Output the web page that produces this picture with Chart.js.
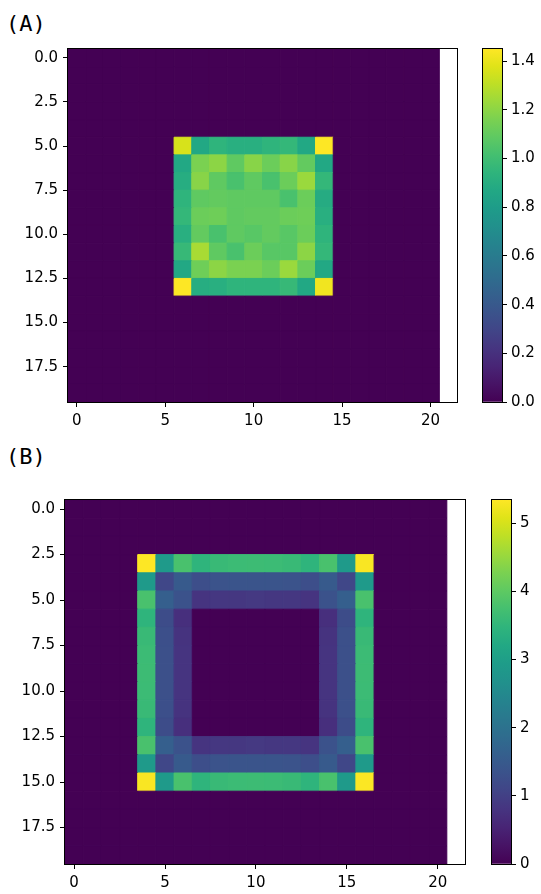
<!DOCTYPE html>
<html>
<head>
<meta charset="utf-8">
<script src="https://cdn.jsdelivr.net/npm/chart.js@4.4.1/dist/chart.umd.min.js"></script>
<style>
  html, body { margin: 0; padding: 0; background: #fff; }
  #fig { position: relative; width: 541px; height: 894px; overflow: hidden; }
  #fig canvas { position: absolute; }
  .panel-label { position: absolute; font-family: 'DejaVu Sans Mono', monospace; font-size: 22px; line-height: 1; color: #000; }
</style>
</head>
<body>
<div id="fig">
  <div class="panel-label" style="left:6px; top:13px;">(A)</div>
  <canvas id="heatA" width="470" height="430" style="left:0; top:0;"></canvas>
  <canvas id="barA" width="71" height="430" style="left:470px; top:0;"></canvas>
  <div class="panel-label" style="left:6px; top:446px;">(B)</div>
  <canvas id="heatB" width="480" height="454" style="left:0; top:440px;"></canvas>
  <canvas id="barB" width="61" height="454" style="left:480px; top:440px;"></canvas>
</div>
<script>
// ---- Datos ----
const N_ROWS = 20;
const N_COLS = 21;
const X_MAX = 21.5;              // el eje x llega hasta 21.5 (columna blanca)
const X_TICKS = [0, 5, 10, 15, 20];
const Y_TICKS = [0, 2.5, 5, 7.5, 10, 12.5, 15, 17.5];

// (A) bloque 9x9 en filas 5..13, columnas 6..14
const A_ROW0 = 5, A_COL0 = 6;
const A_BLOCK = [
  [1.36, 0.87, 0.94, 0.91, 0.91, 0.94, 0.96, 0.87, 1.45],
  [0.87, 1.16, 1.20, 1.09, 1.19, 1.12, 1.19, 1.10, 0.87],
  [0.90, 1.19, 1.09, 1.03, 1.09, 1.03, 1.12, 1.23, 0.96],
  [0.94, 1.09, 1.10, 1.09, 1.09, 1.09, 1.03, 1.12, 0.89],
  [0.96, 1.12, 1.13, 1.09, 1.10, 1.10, 1.12, 1.13, 0.91],
  [0.91, 1.10, 1.03, 1.09, 1.07, 1.10, 1.07, 1.12, 0.94],
  [0.97, 1.26, 1.09, 1.03, 1.12, 1.07, 1.07, 1.20, 0.96],
  [0.87, 1.13, 1.20, 1.16, 1.16, 1.12, 1.23, 1.12, 0.87],
  [1.45, 0.90, 0.91, 0.94, 0.94, 0.94, 0.97, 0.87, 1.42]
];
const A_CBAR_TICKS = [0, 0.2, 0.4, 0.6, 0.8, 1.0, 1.2, 1.4];

// (B) anillo 13x13 en filas 3..15, columnas 4..16
const B_ROW0 = 3, B_COL0 = 4;
const B_BLOCK = [
  [5.34, 2.88, 3.79, 3.47, 3.60, 3.63, 3.65, 3.63, 3.60, 3.47, 3.79, 2.88, 5.30],
  [2.88, 1.12, 1.50, 1.25, 1.35, 1.38, 1.38, 1.38, 1.35, 1.25, 1.50, 1.12, 2.88],
  [3.79, 1.60, 1.34, 0.80, 0.85, 0.85, 0.88, 0.85, 0.85, 0.80, 1.34, 1.60, 3.79],
  [3.47, 1.23, 0.72, 0, 0, 0, 0, 0, 0, 0, 0.72, 1.23, 3.47],
  [3.60, 1.28, 0.78, 0, 0, 0, 0, 0, 0, 0, 0.78, 1.30, 3.60],
  [3.63, 1.30, 0.80, 0, 0, 0, 0, 0, 0, 0, 0.80, 1.30, 3.63],
  [3.65, 1.30, 0.80, 0, 0, 0, 0, 0, 0, 0, 0.80, 1.30, 3.65],
  [3.63, 1.30, 0.80, 0, 0, 0, 0, 0, 0, 0, 0.80, 1.30, 3.63],
  [3.60, 1.28, 0.78, 0, 0, 0, 0, 0, 0, 0, 0.78, 1.30, 3.60],
  [3.47, 1.23, 0.72, 0, 0, 0, 0, 0, 0, 0, 0.72, 1.23, 3.47],
  [3.79, 1.60, 1.34, 0.80, 0.85, 0.85, 0.88, 0.85, 0.85, 0.80, 1.34, 1.60, 3.79],
  [2.88, 1.12, 1.50, 1.25, 1.35, 1.38, 1.38, 1.38, 1.35, 1.25, 1.50, 1.12, 2.88],
  [5.30, 2.88, 3.79, 3.47, 3.60, 3.63, 3.65, 3.63, 3.60, 3.47, 3.79, 2.88, 5.32]
];
const B_CBAR_TICKS = [0, 1, 2, 3, 4, 5];

// ---- Paleta viridis ----
const VIRIDIS = [
  '#440154', '#471365', '#482475', '#463480', '#414487', '#3b528b', '#355f8d',
  '#2f6c8e', '#2a788e', '#25848e', '#21918c', '#1e9c89', '#22a884', '#2fb47c',
  '#44bf70', '#5ec962', '#7ad151', '#9bd93c', '#bddf26', '#dfe318', '#fde725'
];
const hexRgb = h => [1, 3, 5].map(i => parseInt(h.slice(i, i + 2), 16));
const VIR_RGB = VIRIDIS.map(hexRgb);

function viridis(t) {
  t = Math.min(1, Math.max(0, t));
  const f = t * (VIR_RGB.length - 1);
  const i = Math.min(Math.floor(f), VIR_RGB.length - 2);
  const k = f - i;
  const a = VIR_RGB[i], b = VIR_RGB[i + 1];
  const c = a.map((v, j) => Math.round(v + (b[j] - v) * k));
  return `rgb(${c[0]},${c[1]},${c[2]})`;
}

Chart.defaults.font.family = "'DejaVu Sans', sans-serif";
Chart.defaults.font.size = 15;
Chart.defaults.color = '#000';

// marco negro alrededor del área de dibujo
const frame = {
  id: 'frame',
  afterDraw(chart) {
    const { ctx, chartArea: a } = chart;
    ctx.save();
    ctx.strokeStyle = '#000';
    ctx.lineWidth = 1;
    ctx.strokeRect(Math.round(a.left) - 0.5, Math.round(a.top) - 0.5,
                   Math.round(a.right - a.left) + 1, Math.round(a.bottom - a.top) + 1);
    ctx.restore();
  }
};

function buildPoints(block, r0, c0) {
  const grid = [];
  for (let r = 0; r < N_ROWS; r++) grid.push(new Array(N_COLS).fill(0));
  block.forEach((row, i) => row.forEach((v, j) => { grid[r0 + i][c0 + j] = v; }));
  const pts = [];
  grid.forEach((row, r) => row.forEach((v, c) => pts.push({ x: c, y: r, v })));
  return pts;
}

function cellSize(chart) {
  const s = chart.scales;
  return Math.max(Math.abs(s.x.getPixelForValue(1) - s.x.getPixelForValue(0)),
                  Math.abs(s.y.getPixelForValue(1) - s.y.getPixelForValue(0)));
}

function makeHeatmap(id, points, vmax, pad, yAxisW, xAxisH) {
  const ctx = document.getElementById(id).getContext('2d');
  const color = c => (c.raw ? viridis(c.raw.v / vmax) : VIRIDIS[0]);
  const radius = c => cellSize(c.chart) / Math.SQRT2;
  return new Chart(ctx, {
    type: 'scatter',
    data: {
      datasets: [{
        data: points,
        pointStyle: 'rect',
        pointRadius: radius,
        pointHoverRadius: radius,
        backgroundColor: color,
        borderColor: color,
        borderWidth: 1,
      }]
    },
    options: {
      responsive: false,
      animation: false,
      events: [],
      layout: { padding: pad },
      plugins: { legend: { display: false }, tooltip: { enabled: false } },
      scales: {
        x: {
          type: 'linear', min: -0.5, max: X_MAX,
          afterBuildTicks: s => { s.ticks = X_TICKS.map(v => ({ value: v })); },
          afterFit: s => { s.height = xAxisH; },
          ticks: { callback: v => String(v), padding: 5, maxRotation: 0 },
          grid: { drawOnChartArea: false, tickLength: 5, color: '#000' },
          border: { display: false }
        },
        y: {
          type: 'linear', min: -0.5, max: N_ROWS - 0.5, reverse: true,
          afterBuildTicks: s => { s.ticks = Y_TICKS.map(v => ({ value: v })); },
          afterFit: s => { s.width = yAxisW; },
          ticks: { callback: v => v.toFixed(1), padding: 5 },
          grid: { drawOnChartArea: false, tickLength: 5, color: '#000' },
          border: { display: false }
        }
      }
    },
    plugins: [frame]
  });
}

function makeColorbar(id, vmax, ticks, fmt, pad, axisW) {
  const ctx = document.getElementById(id).getContext('2d');
  return new Chart(ctx, {
    type: 'bar',
    data: {
      labels: [''],
      datasets: [{
        data: [vmax],
        backgroundColor: c => {
          const a = c.chart.chartArea;
          if (!a) return VIRIDIS[0];
          const g = c.chart.ctx.createLinearGradient(0, a.bottom, 0, a.top);
          VIRIDIS.forEach((h, i) => g.addColorStop(i / (VIRIDIS.length - 1), h));
          return g;
        },
        borderWidth: 0,
        categoryPercentage: 1,
        barPercentage: 1
      }]
    },
    options: {
      responsive: false,
      animation: false,
      events: [],
      layout: { padding: pad },
      plugins: { legend: { display: false }, tooltip: { enabled: false } },
      scales: {
        x: { display: false },
        y: {
          position: 'right', min: 0, max: vmax,
          afterBuildTicks: s => { s.ticks = ticks.map(v => ({ value: v })); },
          afterFit: s => { s.width = axisW; },
          ticks: { callback: fmt, padding: 4 },
          grid: { drawOnChartArea: false, tickLength: 5, color: '#000' },
          border: { display: false }
        }
      }
    },
    plugins: [frame]
  });
}

const maxOf = block => Math.max(...block.flat());
const VMAX_A = maxOf(A_BLOCK);
const VMAX_B = maxOf(B_BLOCK);

makeHeatmap('heatA', buildPoints(A_BLOCK, A_ROW0, A_COL0), VMAX_A,
  { top: 49, right: 13, left: 0, bottom: 0 }, 68, 28);
makeColorbar('barA', VMAX_A, A_CBAR_TICKS, v => v.toFixed(1),
  { top: 49, right: 0, left: 13, bottom: 28 }, 39);

makeHeatmap('heatB', buildPoints(B_BLOCK, B_ROW0, B_COL0), VMAX_B,
  { top: 60, right: 15, left: 0, bottom: 0 }, 65, 30);
makeColorbar('barB', VMAX_B, B_CBAR_TICKS, v => String(v),
  { top: 60, right: 0, left: 12, bottom: 30 }, 30);
</script>
</body>
</html>
